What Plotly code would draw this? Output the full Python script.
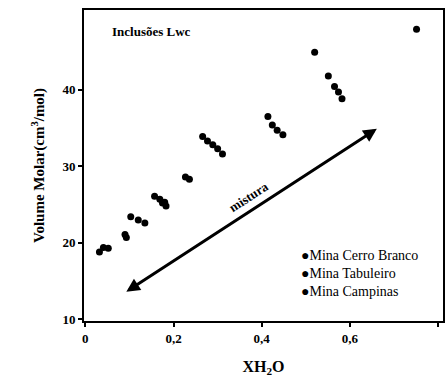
import plotly.graph_objects as go

# Data
cerro_x = [0.032, 0.041, 0.052, 0.090, 0.093, 0.103, 0.120, 0.135, 0.157, 0.169, 0.175, 0.180, 0.183]
cerro_y = [18.8, 19.4, 19.3, 21.1, 20.7, 23.4, 23.0, 22.6, 26.1, 25.7, 25.2, 25.3, 24.8]
tabul_x = [0.227, 0.236, 0.266, 0.277, 0.289, 0.300, 0.311]
tabul_y = [28.6, 28.3, 33.9, 33.3, 32.8, 32.3, 31.6]
campi_x = [0.414, 0.424, 0.435, 0.448, 0.520, 0.551, 0.565, 0.574, 0.582, 0.751]
campi_y = [36.5, 35.4, 34.7, 34.1, 44.9, 41.8, 40.4, 39.7, 38.8, 47.9]
series_names = ["Mina Cerro Branco", "Mina Tabuleiro", "Mina Campinas"]

arrow_start = (0.0895, 13.5)
arrow_end = (0.661, 34.9)
arrow_label = "mistura"

x_ticks = [0, 0.2, 0.4, 0.6, 0.8]
x_ticklabels = ["0", "0,2", "0,4", "0,6", "0,8"]
y_ticks = [10, 20, 30, 40]

FONT = "Times New Roman, Liberation Serif, DejaVu Serif, serif"

fig = go.Figure()
for name, xs, ys in zip(series_names, [cerro_x, tabul_x, campi_x], [cerro_y, tabul_y, campi_y]):
    fig.add_trace(go.Scatter(
        x=xs, y=ys, mode="markers", name=name, showlegend=False,
        marker=dict(color="black", size=7, symbol="circle"),
    ))

# legend drawn as one compact text block (reference rows are tightly spaced)
fig.add_annotation(
    x=0.598, y=0.152, xref="paper", yref="paper", xanchor="left", yanchor="middle",
    align="left", showarrow=False,
    text="<br>".join("●" + n for n in series_names),
    font=dict(family=FONT, size=14, color="black"),
)

fig.add_annotation(
    x=arrow_end[0], y=arrow_end[1], ax=arrow_start[0], ay=arrow_start[1],
    xref="x", yref="y", axref="x", ayref="y",
    showarrow=True, arrowhead=2, startarrowhead=2, arrowside="end+start",
    arrowwidth=3, arrowsize=0.9, startarrowsize=0.9, arrowcolor="black", text="",
)
fig.add_annotation(
    x=0.372, y=26.0, xref="x", yref="y", text="<b>" + arrow_label + "</b>",
    showarrow=False, textangle=-33, font=dict(family=FONT, size=13, color="black"),
)
fig.add_annotation(
    x=0.055, y=47.6, xref="x", yref="y", text="<b>Inclusões Lwc</b>",
    showarrow=False, xanchor="left", font=dict(family=FONT, size=13, color="black"),
)

fig.update_layout(
    width=446, height=378,
    margin=dict(l=84, r=1, t=10, b=57),
    paper_bgcolor="white", plot_bgcolor="white",
    font=dict(family=FONT, color="black"),
    separators=",.",
    showlegend=False,
    xaxis=dict(
        range=[-0.003, 0.811], tickvals=x_ticks, ticktext=["<b>%s</b>" % t for t in x_ticklabels],
        showgrid=False, zeroline=False, showline=True, linecolor="black", linewidth=2,
        mirror=True, ticks="outside", ticklen=4, tickwidth=2, tickcolor="black",
        tickfont=dict(family=FONT, size=13, color="black"),
        title=dict(text="<b>XH<sub>2</sub>O</b>", font=dict(family=FONT, size=16, color="black"), standoff=16),
    ),
    yaxis=dict(
        range=[9.8, 50.4], tickvals=y_ticks, ticktext=["<b>%d</b>" % t for t in y_ticks],
        showgrid=False, zeroline=False, showline=True, linecolor="black", linewidth=2,
        mirror=True, ticks="outside", ticklen=4, tickwidth=2, tickcolor="black",
        tickfont=dict(family=FONT, size=13, color="black"),
        title=dict(text="<b>Volume Molar(cm<sup>3</sup>/mol)</b>", font=dict(family=FONT, size=15, color="black"), standoff=14),
    ),
)

fig.write_html("out.html")
